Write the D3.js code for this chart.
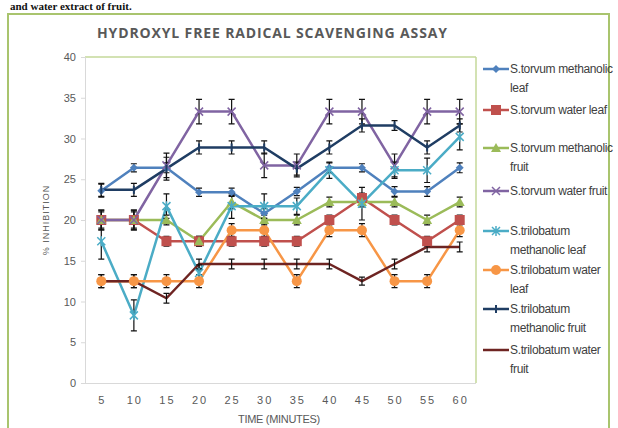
<!DOCTYPE html>
<html>
<head>
<meta charset="utf-8">
<script src="https://cdn.jsdelivr.net/npm/d3@7"></script>
<style>
    body { margin: 0; background: #fff; }
    svg { display: block; font-family: "Liberation Sans", Arial, sans-serif; }
    .axis text { fill: #595959; font-size: 11px; }
    .axis .domain, .axis line { stroke: #d9d9d9; }
</style>
</head>
<body>
<div class="chart"></div>
<script>
// values (% inhibition per time point)
const times = [5, 10, 15, 20, 25, 30, 35, 40, 45, 50, 55, 60];
const yTicks = [0, 5, 10, 15, 20, 25, 30, 35, 40];

const torvumMethLeaf = [23.6, 26.4, 26.4, 23.4, 23.4, 20.8, 23.5, 26.4, 26.4, 23.5, 23.5, 26.4];
const torvumWaterLeaf = [20.0, 20.0, 17.4, 17.4, 17.4, 17.4, 17.4, 20.0, 22.7, 20.0, 17.4, 20.0];
const torvumMethFruit = [20.0, 20.0, 20.0, 17.4, 22.2, 20.0, 20.0, 22.2, 22.2, 22.2, 20.0, 22.2];
const torvumWaterFruit = [20.0, 20.0, 26.7, 33.3, 33.3, 26.7, 26.7, 33.3, 33.3, 26.7, 33.3, 33.3];
const trilobMethLeaf = [17.4, 8.3, 21.7, 13.5, 21.7, 21.7, 21.7, 26.1, 22.0, 26.1, 26.1, 30.2];
const trilobWaterLeaf = [12.5, 12.5, 12.5, 12.5, 18.75, 18.75, 12.5, 18.75, 18.75, 12.5, 12.5, 18.75];
const trilobMethFruit = [23.7, 23.7, 26.3, 28.9, 28.9, 28.9, 26.3, 28.9, 31.6, 31.6, 28.9, 31.6];
const trilobWaterFruit = [12.5, 12.5, 10.4, 14.6, 14.6, 14.6, 14.6, 14.6, 12.5, 14.6, 16.7, 16.7];

// error bar half widths
const errTorvumMethLeaf = [0.8, 0.5, 0.6, 0.5, 0.5, 0.6, 0.5, 0.6, 0.5, 0.6, 0.6, 0.6];
const errTorvumWaterLeaf = [1.2, 1.2, 0.6, 0.6, 0.6, 0.6, 0.6, 0.6, 0.6, 0.6, 0.6, 0.6];
const errTorvumMethFruit = [1.0, 1.0, 0.6, 0.6, 0.8, 0.6, 0.6, 0.6, 0.6, 0.6, 0.6, 0.6];
const errTorvumWaterFruit = [1.2, 1.2, 1.5, 1.5, 1.5, 1.5, 1.4, 1.5, 1.5, 1.4, 1.5, 1.5];
const errTrilobMethLeaf = [2.2, 1.9, 1.5, 1.0, 1.5, 1.5, 1.0, 1.0, 2.0, 1.0, 1.5, 1.6];
const errTrilobWaterLeaf = [0.8, 0.8, 0.8, 0.8, 0.8, 0.8, 0.8, 0.8, 0.8, 0.8, 0.8, 0.8];
const errTrilobMethFruit = [0.8, 0.8, 1.4, 0.8, 0.8, 0.8, 0.8, 0.8, 0.8, 0.6, 0.8, 0.8];
const errTrilobWaterFruit = [0.8, 0.8, 0.6, 0.6, 0.6, 0.6, 0.6, 0.6, 0.5, 0.6, 0.6, 0.6];

const legendLines = [
    ["S.torvum methanolic", "leaf"],
    ["S.torvum water leaf"],
    ["S.torvum methanolic", "fruit"],
    ["S.torvum water fruit"],
    ["S.trilobatum", "methanolic leaf"],
    ["S.trilobatum water", "leaf"],
    ["S.trilobatum", "methanolic fruit"],
    ["S.trilobatum water", "fruit"]
];

const seriesValues = [torvumMethLeaf, torvumWaterLeaf, torvumMethFruit, torvumWaterFruit,
    trilobMethLeaf, trilobWaterLeaf, trilobMethFruit, trilobWaterFruit];
const seriesErrors = [errTorvumMethLeaf, errTorvumWaterLeaf, errTorvumMethFruit, errTorvumWaterFruit,
    errTrilobMethLeaf, errTrilobWaterLeaf, errTrilobMethFruit, errTrilobWaterFruit];

const COLORS = ["#4f81bd", "#c0504d", "#9bbb59", "#8064a2", "#4bacc6", "#f79646", "#1f3d63", "#6e2422"];
const MARKERS = ["diamond", "square", "triangle", "cross", "star", "circle", "dash", "none"];
const legendY = [69, 110, 148, 191, 231, 270, 309, 350];

let svg = d3.select(".chart").append("svg").attr("width", 618).attr("height", 428);

// caption of the page, just above the figure frame
svg.append("text")
    .attr("x", 10).attr("y", 10)
    .style("font-family", "'Liberation Serif', serif")
    .style("font-weight", "bold")
    .style("font-size", "11px")
    .attr("fill", "#111")
    .text("and water extract of fruit.");

// outer frame
svg.append("rect")
    .attr("x", 8).attr("y", 14).attr("width", 601).attr("height", 430)
    .attr("fill", "none").attr("stroke", "#a9c46e").attr("stroke-width", 2);

svg.append("text")
    .attr("x", 97).attr("y", 38)
    .attr("textLength", 350).attr("lengthAdjust", "spacing")
    .style("font-family", "'Open Sans', 'DejaVu Sans', sans-serif")
    .style("font-weight", "bold")
    .style("font-size", "14px")
    .attr("fill", "#595959")
    .text("HYDROXYL FREE RADICAL SCAVENGING ASSAY");

let margin = {top: 57, right: 142, bottom: 45, left: 85},
    width = 618 - margin.left - margin.right,
    height = 428 - margin.top - margin.bottom,
    g = svg.append("g").attr("transform", "translate(" + margin.left + "," + margin.top + ")");

let x = d3.scaleBand().domain(times).range([0, width]);
let y = d3.scaleLinear().domain([0, 40]).range([height, 0]);
let cx = function (i) { return x(times[i]) + x.bandwidth() / 2; };

// plot area top and right edges
g.append("line").attr("x1", 0).attr("x2", width).attr("y1", 0).attr("y2", 0)
    .attr("stroke", "#c5d89a").attr("stroke-width", 1.5);
g.append("line").attr("x1", width).attr("x2", width).attr("y1", 0).attr("y2", height)
    .attr("stroke", "#c5d89a").attr("stroke-width", 1.5);

g.append("g")
    .attr("class", "axis")
    .call(d3.axisLeft(y).tickValues(yTicks).tickSize(4).tickPadding(5));

let xAxis = g.append("g")
    .attr("class", "axis")
    .attr("transform", "translate(0," + height + ")")
    .call(d3.axisBottom(x).tickSize(0).tickPadding(13));
xAxis.selectAll("text").style("letter-spacing", "2px").attr("dx", "1px");
xAxis.select(".domain").attr("d", "M-4,0.5H" + width);

svg.append("text")
    .attr("transform", "translate(49," + (margin.top + height / 2) + ") rotate(-90)")
    .attr("text-anchor", "middle")
    .style("font-size", "9px")
    .style("letter-spacing", "1px")
    .attr("fill", "#595959")
    .text("% INHIBITION");

svg.append("text")
    .attr("x", 279).attr("y", 423)
    .attr("text-anchor", "middle")
    .style("font-size", "11px")
    .style("letter-spacing", "-0.3px")
    .attr("fill", "#595959")
    .text("TIME (MINUTES)");

function drawMarker(sel, type, color) {
    if (type === "none") return;
    if (type === "diamond") {
        sel.append("path").attr("d", "M0,-4L4,0L0,4L-4,0Z").attr("fill", color);
    } else if (type === "square") {
        sel.append("rect").attr("x", -5).attr("y", -5).attr("width", 10).attr("height", 10).attr("fill", color);
    } else if (type === "triangle") {
        sel.append("path").attr("d", "M0,-5L5,4L-5,4Z").attr("fill", color);
    } else if (type === "circle") {
        sel.append("circle").attr("r", 5).attr("fill", color);
    } else if (type === "cross") {
        sel.append("path").attr("d", "M-4,-4L4,4M-4,4L4,-4").attr("stroke", color).attr("stroke-width", 1.5);
    } else if (type === "star") {
        sel.append("path").attr("d", "M-4,-4L4,4M-4,4L4,-4M0,-5L0,5").attr("stroke", color).attr("stroke-width", 1.5);
    } else if (type === "dash") {
        sel.append("path").attr("d", "M0,-4L0,4").attr("stroke", color).attr("stroke-width", 2);
    }
}

let line = d3.line()
    .x(function (d, i) { return cx(i); })
    .y(function (d) { return y(d); });

// lines
for (let s = 0; s < seriesValues.length; s++) {
    g.append("path")
        .datum(seriesValues[s])
        .attr("fill", "none")
        .attr("stroke", COLORS[s])
        .attr("stroke-width", 2.5)
        .attr("stroke-linejoin", "round")
        .attr("d", line);
}

// error bars
for (let s = 0; s < seriesValues.length; s++) {
    g.append("g").selectAll("path")
        .data(seriesValues[s])
        .enter().append("path")
        .attr("fill", "none")
        .attr("stroke", "#111")
        .attr("stroke-width", 1.2)
        .attr("d", function (d, i) {
            let px = cx(i), top = y(d + seriesErrors[s][i]), bot = y(d - seriesErrors[s][i]);
            return "M" + px + "," + top + "V" + bot +
                "M" + (px - 3) + "," + top + "H" + (px + 3) +
                "M" + (px - 3) + "," + bot + "H" + (px + 3);
        });
}

// markers
for (let s = 0; s < seriesValues.length; s++) {
    g.append("g").selectAll("g")
        .data(seriesValues[s])
        .enter().append("g")
        .attr("transform", function (d, i) { return "translate(" + cx(i) + "," + y(d) + ")"; })
        .each(function () { drawMarker(d3.select(this), MARKERS[s], COLORS[s]); });
}

// legend
let legend = svg.append("g").selectAll("g")
    .data(legendLines)
    .enter().append("g")
    .attr("transform", function (d, i) { return "translate(483," + legendY[i] + ")"; });

legend.append("line")
    .attr("x1", 0).attr("x2", 26)
    .attr("stroke", function (d, i) { return COLORS[i]; })
    .attr("stroke-width", 2.5);

legend.each(function (d, i) {
    let m = d3.select(this).append("g").attr("transform", "translate(13,0)");
    drawMarker(m, MARKERS[i], COLORS[i]);
    d3.select(this).selectAll("text")
        .data(d)
        .enter().append("text")
        .attr("x", 27)
        .attr("y", function (t, k) { return k * 19 + 4; })
        .style("font-size", "12px")
        .style("letter-spacing", "-0.35px")
        .attr("fill", "#404040")
        .text(function (t) { return t; });
});
</script>
</body>
</html>
